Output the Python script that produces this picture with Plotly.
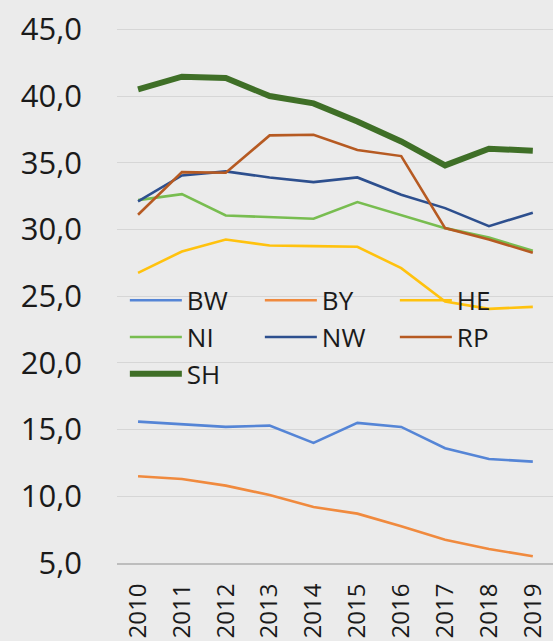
import plotly.graph_objects as go

years = ["2010", "2011", "2012", "2013", "2014", "2015", "2016", "2017", "2018", "2019"]

BW = [15.6, 15.4, 15.2, 15.3, 14.0, 15.5, 15.2, 13.6, 12.8, 12.6]
BY = [11.5, 11.3, 10.8, 10.1, 9.2, 8.7, 7.75, 6.75, 6.05, 5.5]
HE = [26.75, 28.35, 29.25, 28.8, 28.75, 28.7, 27.1, 24.6, 24.05, 24.2]
NI = [32.2, 32.65, 31.05, 30.95, 30.8, 32.05, 31.1, 30.1, 29.4, 28.4]
NW = [32.1, 34.05, 34.35, 33.9, 33.55, 33.9, 32.6, 31.6, 30.25, 31.25]
RP = [31.1, 34.3, 34.25, 37.05, 37.1, 35.95, 35.5, 30.1, 29.25, 28.25]
SH = [40.5, 41.45, 41.35, 40.0, 39.45, 38.1, 36.6, 34.8, 36.05, 35.9]

series = [
    ("BW", BW, "#5585d6", 2.6),
    ("BY", BY, "#f08a3e", 2.6),
    ("HE", HE, "#ffc20e", 2.6),
    ("NI", NI, "#78bd50", 2.6),
    ("NW", NW, "#2d4f8e", 2.6),
    ("RP", RP, "#b65a22", 2.6),
    ("SH", SH, "#3f6f27", 6),
]

fig = go.Figure()
for name, vals, color, w in series:
    fig.add_trace(go.Scatter(x=years, y=vals, name=name, mode="lines",
                             line=dict(color=color, width=w)))

bg = "#ebebeb"
fig.update_layout(
    width=553, height=641,
    paper_bgcolor=bg, plot_bgcolor=bg,
    margin=dict(l=117, r=0, t=20, b=78, autoexpand=False),
    separators=",.",
    font=dict(family="Open Sans", color="#1a1a1a"),
    showlegend=True,
    legend=dict(
        orientation="h", x=0.018, y=0.527, xanchor="left", yanchor="top",
        bgcolor="rgba(0,0,0,0)", font=dict(size=26, color="#1a1a1a"),
        entrywidth=68, entrywidthmode="pixels", tracegroupgap=0,
        itemwidth=52,
    ),
    xaxis=dict(
        type="category", range=[-0.48, 9.46], tickangle=-90,
        tickfont=dict(size=24, color="#1a1a1a"),
        showgrid=False, showline=True, linecolor="#bdbdbd", linewidth=2,
        ticks="", ticklabelstandoff=9, zeroline=False, automargin=False,
    ),
    yaxis=dict(
        range=[5, 45.7], tickvals=[5, 10, 15, 20, 25, 30, 35, 40, 45],
        tickformat=".1f", tickfont=dict(size=31, color="#1a1a1a"),
        showgrid=True, gridcolor="#d6d6d6", gridwidth=1.2,
        showline=False, zeroline=False, ticks="", ticklabelstandoff=34,
        automargin=False,
    ),
)

fig.write_html(
    "out.html",
    config={"displayModeBar": False},
    post_script="document.body.style.margin='0';document.body.style.overflow='hidden';document.body.style.background='#ebebeb';",
)
